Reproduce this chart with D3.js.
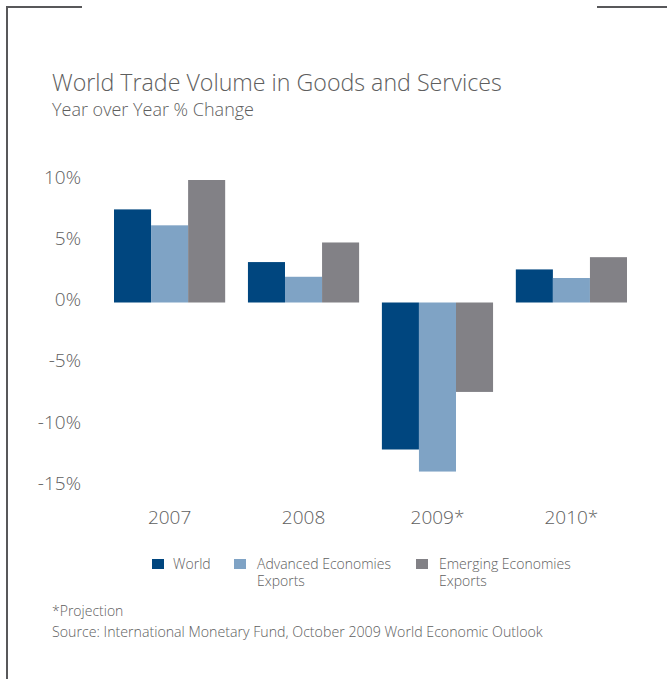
<!DOCTYPE html>
<html>
<head>
<meta charset="utf-8">
<script src="https://cdn.jsdelivr.net/npm/d3@7/dist/d3.min.js"></script>
<style>
  html, body { margin: 0; padding: 0; background: #fff; }
  svg { display: block; font-family: "Open Sans", "Noto Sans", sans-serif; }
</style>
</head>
<body>
<svg id="chart" width="667" height="679"></svg>
<script>
// Year-over-year % change in world trade volume (goods and services)
const years = ["2007", "2008", "2009*", "2010*"];
const seriesNames = ["World", "Advanced Economies Exports", "Emerging Economies Exports"];
const world = [7.6, 3.3, -12.0, 2.7];
const advanced = [6.3, 2.1, -13.8, 2.0];
const emerging = [10.0, 4.9, -7.3, 3.7];
const yTicks = [10, 5, 0, -5, -10, -15];
const legendLines = [["World"], ["Advanced Economies", "Exports"], ["Emerging Economies", "Exports"]];
const colors = ["#00467f", "#7fa3c5", "#828186"];

const seriesValues = [world, advanced, emerging];
const rows = years.map((yr, i) => ({
  year: yr,
  values: seriesNames.map((s, k) => ({ key: s, value: seriesValues[k][i] }))
}));

const svg = d3.select("#chart");
const textColor = "#5e5e5e";

// Frame corner strokes
const frame = svg.append("g").attr("stroke", "#58585a").attr("stroke-width", 2).attr("fill", "none");
frame.append("path").attr("d", "M7,679 V7 H82");
frame.append("path").attr("d", "M597,7 H667");

// Titles
svg.append("text").attr("x", 52).attr("y", 91)
  .attr("font-size", 23.2).attr("font-weight", 300).attr("fill", textColor)
  .text("World Trade Volume in Goods and Services");
svg.append("text").attr("x", 52).attr("y", 116)
  .attr("font-size", 18).attr("font-weight", 300).attr("fill", textColor)
  .text("Year over Year % Change");

// Scales
const y = d3.scaleLinear().domain([0, 10]).range([302.5, 180]);
const x0 = d3.scaleBand().domain(years).range([114, 627]).paddingInner(0.17).paddingOuter(0);
const x1 = d3.scaleBand().domain(seriesNames).range([0, x0.bandwidth()]).padding(0);
const color = d3.scaleOrdinal().domain(seriesNames).range(colors);

// Y axis labels (no line, no ticks)
const yAxis = svg.append("g")
  .attr("transform", "translate(81,-3)")
  .call(d3.axisLeft(y).tickValues(yTicks).tickSize(0).tickPadding(0).tickFormat(d => d + "%"));
yAxis.select(".domain").remove();
yAxis.selectAll("text")
  .attr("font-family", "'Open Sans', sans-serif")
  .attr("font-size", 19).attr("font-weight", 300).attr("fill", textColor);

// Bars
const groups = svg.append("g").selectAll("g").data(rows).join("g")
  .attr("transform", d => `translate(${x0(d.year)},0)`);
groups.selectAll("rect").data(d => d.values).join("rect")
  .attr("x", d => x1(d.key))
  .attr("width", x1.bandwidth())
  .attr("y", d => y(Math.max(0, d.value)))
  .attr("height", d => Math.abs(y(d.value) - y(0)))
  .attr("fill", d => color(d.key));

// Category labels
const xAxis = svg.append("g")
  .attr("transform", "translate(0,517)")
  .call(d3.axisBottom(x0).tickSize(0).tickPadding(0));
xAxis.select(".domain").remove();
xAxis.selectAll("text")
  .attr("font-family", "'Open Sans', sans-serif")
  .attr("dy", "0.35em").attr("y", 0)
  .attr("font-size", 19).attr("font-weight", 300).attr("fill", textColor);

// Legend
const legendX = [152, 234, 416];
const legend = svg.append("g").selectAll("g").data(seriesNames).join("g")
  .attr("transform", (d, i) => `translate(${legendX[i]},559)`);
legend.append("rect").attr("width", 12).attr("height", 10).attr("fill", d => color(d));
legend.append("text")
  .attr("x", (d, i) => i === 0 ? 21 : 23)
  .attr("font-size", 14).attr("font-weight", 300).attr("fill", textColor)
  .selectAll("tspan").data((d, i) => legendLines[i]).join("tspan")
  .attr("x", function () { return d3.select(this.parentNode).attr("x"); })
  .attr("y", (d, j) => 10 + j * 17)
  .text(d => d);

// Footnotes
svg.append("text").attr("x", 52).attr("y", 616)
  .attr("font-size", 14).attr("font-weight", 300).attr("fill", textColor)
  .text("*Projection");
svg.append("text").attr("x", 52).attr("y", 637)
  .attr("font-size", 14.2).attr("font-weight", 300).attr("fill", textColor)
  .text("Source: International Monetary Fund, October 2009 World Economic Outlook");
</script>
</body>
</html>
